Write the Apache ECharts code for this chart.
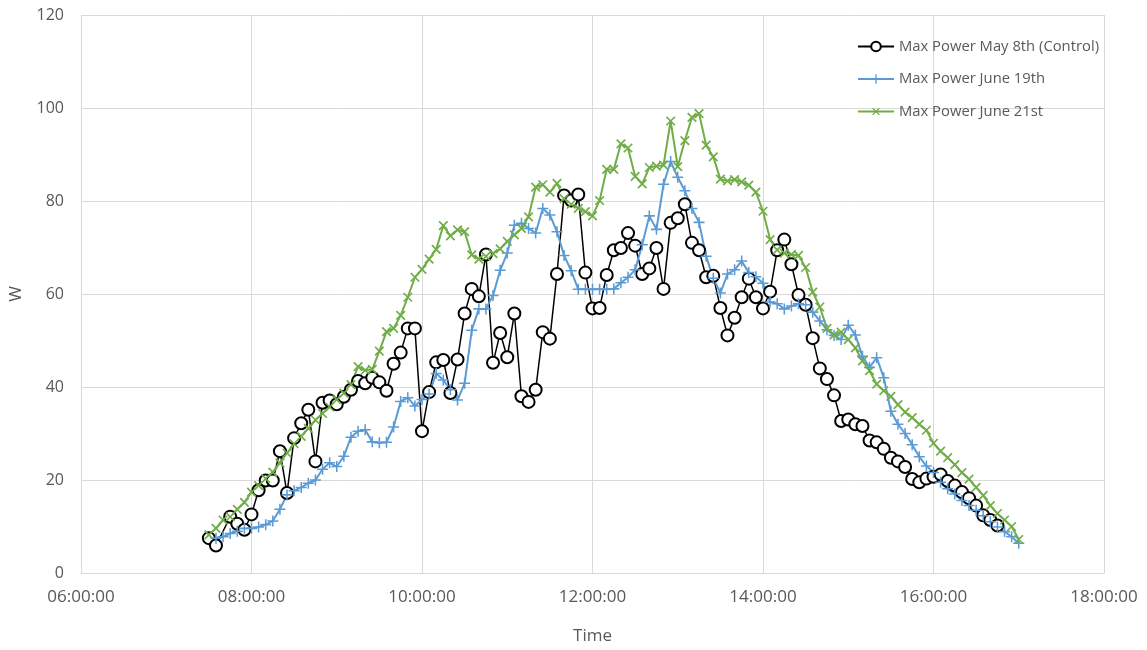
<!DOCTYPE html>
<html>
<head>
<meta charset="utf-8">
<script src="https://cdn.jsdelivr.net/npm/echarts@6/dist/echarts.min.js"></script>
<style>
  html, body { margin: 0; padding: 0; background: #ffffff; }
  #chart { width: 1147px; height: 650px; }
</style>
</head>
<body>
<div id="chart"></div>
<script>
// Sample times (5-minute logging interval)
const times = [
  '07:30','07:35','07:40','07:45','07:50','07:55',
  '08:00','08:05','08:10','08:15','08:20','08:25','08:30','08:35','08:40','08:45','08:50','08:55',
  '09:00','09:05','09:10','09:15','09:20','09:25','09:30','09:35','09:40','09:45','09:50','09:55',
  '10:00','10:05','10:10','10:15','10:20','10:25','10:30','10:35','10:40','10:45','10:50','10:55',
  '11:00','11:05','11:10','11:15','11:20','11:25','11:30','11:35','11:40','11:45','11:50','11:55',
  '12:00','12:05','12:10','12:15','12:20','12:25','12:30','12:35','12:40','12:45','12:50','12:55',
  '13:00','13:05','13:10','13:15','13:20','13:25','13:30','13:35','13:40','13:45','13:50','13:55',
  '14:00','14:05','14:10','14:15','14:20','14:25','14:30','14:35','14:40','14:45','14:50','14:55',
  '15:00','15:05','15:10','15:15','15:20','15:25','15:30','15:35','15:40','15:45','15:50','15:55',
  '16:00','16:05','16:10','16:15','16:20','16:25','16:30','16:35','16:40','16:45','16:50','16:55',
  '17:00'
];

// Max power (W), May 8th control day
const powerMay8 = [
  7.5, 5.9, null, 12.1, 10.6, 9.3,
  12.6, 17.8, 19.9, 19.9, 26.2, 17.2, 29.0, 32.2, 35.1, 24.0, 36.6, 37.1,
  36.3, 37.9, 39.4, 41.3, 40.8, 42.0, 41.0, 39.2, 45.0, 47.4, 52.6, 52.6,
  30.5, 38.9, 45.3, 45.8, 38.7, 45.9, 55.8, 61.1, 59.5, 68.5, 45.2, 51.6,
  46.4, 55.8, 38.0, 36.8, 39.4, 51.8, 50.4, 64.3, 81.2, 80.1, 81.4, 64.6,
  56.9, 57.0, 64.1, 69.4, 69.9, 73.1, 70.4, 64.3, 65.5, 69.9, 61.1, 75.3,
  76.3, 79.3, 71.0, 69.4, 63.6, 63.9, 57.0, 51.1, 54.9, 59.3, 63.3, 59.3,
  56.9, 60.5, 69.4, 71.7, 66.4, 59.8, 57.7, 50.5, 44.0, 41.7, 38.2, 32.7,
  33.0, 32.0, 31.6, 28.5, 28.1, 26.7, 24.8, 24.0, 22.8, 20.2, 19.5, 20.3,
  20.7, 21.2, 19.8, 18.8, 17.4, 16.1, 14.5, 12.4, 11.4, 10.2, null, null,
  null
];

// Max power (W), June 19th
const powerJune19 = [
  null, 7.5, 7.8, 8.5, 9.0, 9.6,
  9.6, 9.9, 10.4, 11.2, 13.7, 16.8, 17.7, 18.4, 19.3, 20.0, 22.3, 23.7,
  22.9, 25.1, 29.2, 30.5, 30.8, 28.2, 28.0, 28.1, 31.4, 36.9, 37.7, 35.9,
  37.3, 38.5, 42.9, 41.5, 39.4, 37.2, 40.8, 52.2, 56.8, 56.8, 59.7, 65.1,
  68.8, 74.8, 75.2, 74.1, 73.1, 78.4, 77.0, 73.4, 68.3, 65.0, 61.0, 61.0,
  61.0, 61.0, 61.0, 61.1, 62.4, 63.6, 65.2, 70.6, 76.8, 73.9, 83.6, 88.5,
  85.1, 82.2, 78.4, 75.4, 68.1, 63.4, 60.2, 64.3, 65.2, 67.1, 64.6, 63.7,
  62.3, 58.3, 57.9, 56.8, 57.4, 57.9, 57.7, 56.1, 54.2, 52.3, 51.1, 50.2,
  53.3, 51.2, 46.6, 44.2, 46.3, 42.0, 34.8, 32.0, 30.0, 27.6, 25.0, 23.0,
  21.6, 19.5, 18.1, 17.0, 15.6, 14.5, 13.5, 12.3, 11.0, 9.9, 8.9, 7.8,
  6.4
];

// Max power (W), June 21st
const powerJune21 = [
  8.2, 9.6, 11.4, 12.1, 13.7, 15.2,
  17.4, 18.8, 20.3, 21.7, 23.7, 25.8, 27.8, 29.4, 31.1, 32.9, 34.3, 35.7,
  37.3, 38.7, 40.5, 44.4, 43.6, 43.8, 47.7, 51.9, 52.6, 55.4, 59.3, 63.6,
  65.3, 67.5, 69.6, 74.7, 72.5, 73.8, 73.4, 68.4, 67.5, 68.1, 68.7, 69.7,
  71.3, 72.7, 74.1, 76.6, 83.0, 83.5, 81.9, 83.8, 80.5, 79.3, 78.4, 77.7,
  76.8, 80.1, 86.8, 86.8, 92.3, 91.4, 85.3, 83.7, 87.2, 87.5, 87.7, 97.2,
  87.4, 93.0, 98.0, 98.8, 92.0, 89.5, 84.7, 84.3, 84.6, 84.1, 83.4, 81.9,
  77.8, 71.7, 69.5, 68.8, 68.5, 68.3, 65.7, 60.4, 57.2, 52.6, 51.2, 51.8,
  50.2, 48.4, 45.6, 43.5, 40.6, 39.2, 38.0, 36.2, 34.6, 33.4, 32.0, 30.7,
  27.9, 26.2, 24.8, 23.3, 21.6, 20.2, 18.4, 16.7, 14.5, 12.8, 11.4, 10.0,
  7.2
];

const seriesNames = ['Max Power May 8th (Control)', 'Max Power June 19th', 'Max Power June 21st'];

// Time axis runs 06:00 to 18:00 in hours
const hourMin = 6, hourMax = 18, hourStep = 2;

function toHours(t) {
  const p = t.split(':');
  return Number(p[0]) + Number(p[1]) / 60;
}
function pairs(values) {
  return times
    .map((t, i) => [toHours(t), values[i]])
    .filter(d => d[1] !== null);
}
function hourLabel(v) {
  const h = Math.round(v);
  return (h < 10 ? '0' : '') + h + ':00:00';
}

const textColor = '#595959';
const gridColor = '#d9d9d9';
const fontFamily = 'Open Sans';

// thin "+" marker; rotated 45 degrees it becomes an "x"
const plusPath = 'path://M4.3,0h1.4v10h-1.4z M0,4.3h10v1.4h-10z';

const chart = echarts.init(document.getElementById('chart'), null, { renderer: 'canvas' });
chart.setOption({
  animation: false,
  backgroundColor: '#ffffff',
  textStyle: { fontFamily: fontFamily, color: textColor },
  grid: { left: 81, right: 43, top: 15, bottom: 68, containLabel: false },
  legend: {
    orient: 'vertical',
    left: 852,
    top: 34,
    itemWidth: 36,
    itemHeight: 12,
    itemGap: 17.5,
    textStyle: { fontFamily: fontFamily, fontSize: 14.8, color: textColor },
    data: seriesNames
  },
  xAxis: {
    type: 'value',
    min: hourMin,
    max: hourMax,
    interval: hourStep,
    name: 'Time',
    nameLocation: 'middle',
    nameGap: 55,
    nameTextStyle: { fontFamily: fontFamily, fontSize: 17, color: textColor },
    axisLine: { show: true, lineStyle: { color: gridColor, width: 1 } },
    axisTick: { show: false },
    axisLabel: { fontFamily: fontFamily, fontSize: 17, color: textColor, margin: 16, formatter: hourLabel },
    splitLine: { show: true, lineStyle: { color: gridColor, width: 1 } }
  },
  yAxis: {
    type: 'value',
    min: 0,
    max: 120,
    interval: 20,
    name: 'W',
    nameLocation: 'middle',
    nameGap: 56,
    nameRotate: 90,
    nameTextStyle: { fontFamily: fontFamily, fontSize: 17, color: textColor },
    axisLine: { show: false },
    axisTick: { show: false },
    axisLabel: { fontFamily: fontFamily, fontSize: 16, color: textColor, margin: 17 },
    splitLine: { show: true, lineStyle: { color: gridColor, width: 1 } }
  },
  series: [
    {
      name: seriesNames[0],
      type: 'line',
      data: pairs(powerMay8),
      symbol: 'emptyCircle',
      symbolSize: 12,
      lineStyle: { color: '#000000', width: 1.5 },
      itemStyle: { color: '#000000', borderColor: '#000000', borderWidth: 1.5 },
      emphasis: { disabled: true }
    },
    {
      name: seriesNames[1],
      type: 'line',
      data: pairs(powerJune19),
      symbol: plusPath,
      symbolSize: 11,
      lineStyle: { color: '#5B9BD5', width: 2 },
      itemStyle: { color: '#5B9BD5', borderWidth: 0 },
      emphasis: { disabled: true }
    },
    {
      name: seriesNames[2],
      type: 'line',
      data: pairs(powerJune21),
      symbol: plusPath,
      symbolRotate: 45,
      symbolSize: 12,
      lineStyle: { color: '#70AD47', width: 2 },
      itemStyle: { color: '#70AD47', borderWidth: 0 },
      emphasis: { disabled: true }
    }
  ]
});
</script>
</body>
</html>
